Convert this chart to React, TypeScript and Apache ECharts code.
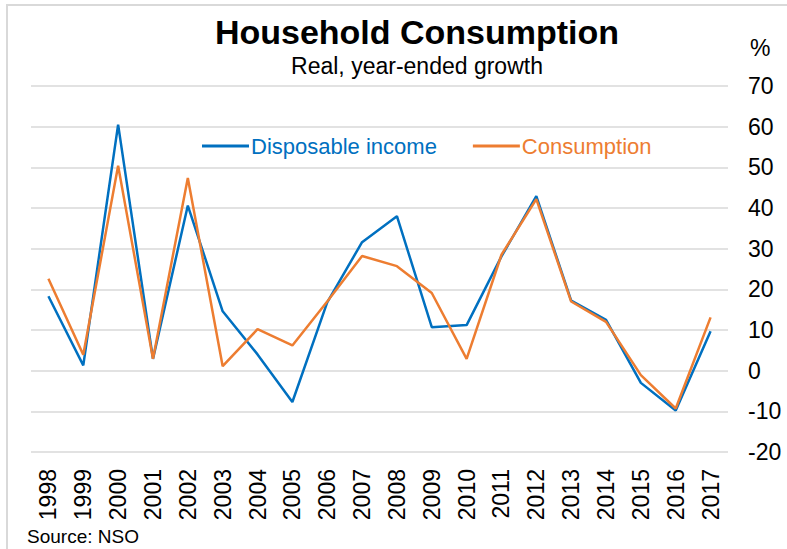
import React, { useEffect, useRef } from "react";
import * as echarts from "echarts";

const years = ["1998","1999","2000","2001","2002","2003","2004","2005","2006","2007","2008","2009","2010","2011","2012","2013","2014","2015","2016","2017"];
const disposableIncome = [18.3, 1.3, 60.5, 2.9, 40.6, 14.6, 4.0, -7.7, 16.8, 31.6, 38.0, 10.7, 11.2, 28.1, 42.9, 17.2, 12.5, -3.0, -9.8, 9.7];
const consumption = [22.6, 3.9, 50.4, 2.9, 47.4, 1.1, 10.2, 6.2, 17.0, 28.2, 25.7, 19.1, 2.9, 28.5, 42.2, 17.0, 12.0, -1.1, -9.3, 13.1];

const FONT = "'Liberation Sans', Arial, sans-serif";
const BLUE = "#0070C0";
const ORANGE = "#ED7D31";

export default function App() {
  const ref = useRef<HTMLDivElement>(null);
  useEffect(() => {
    if (!ref.current) return;
    const chart = echarts.init(ref.current, undefined, { renderer: "svg" });
    chart.setOption({
      animation: false,
      backgroundColor: "#fff",
      textStyle: { fontFamily: FONT },
      title: {
        text: "Household Consumption",
        subtext: "Real, year-ended growth",
        left: 412,
        textAlign: "center",
        top: 10,
        itemGap: 5,
        textStyle: { fontFamily: FONT, fontSize: 34, fontWeight: "bold", color: "#000" },
        subtextStyle: { fontFamily: FONT, fontSize: 23, color: "#000" },
      },
      legend: {
        left: 197,
        top: 130,
        itemWidth: 47,
        itemHeight: 3,
        itemGap: 36,
        icon: "rect",
        textStyle: { fontFamily: FONT, fontSize: 22, padding: [0, 0, 0, -3] },
        data: [
          { name: "Disposable income", textStyle: { color: BLUE } },
          { name: "Consumption", textStyle: { color: ORANGE } },
        ],
      },
      graphic: [
        {
          type: "rect",
          shape: { x: 7, y: 5, width: 1000, height: 1000 },
          style: { fill: "none", stroke: "#d9d9d9", lineWidth: 2 },
          silent: true,
        },
        {
          type: "text",
          x: 750,
          y: 48,
          style: { text: "%", fontFamily: FONT, fontSize: 23, fill: "#000", verticalAlign: "middle" },
        },
        {
          type: "text",
          x: 27,
          y: 536,
          style: { text: "Source: NSO", fontFamily: FONT, fontSize: 19, fill: "#000", verticalAlign: "middle" },
        },
      ],
      grid: { left: 31, right: 59, top: 86, bottom: 97, containLabel: false },
      xAxis: {
        type: "category",
        data: years,
        boundaryGap: true,
        axisLine: { show: false },
        axisTick: { show: false },
        axisLabel: { rotate: 90, fontSize: 23, color: "#000", margin: 17, fontFamily: FONT, interval: 0 },
      },
      yAxis: {
        type: "value",
        position: "right",
        min: -20,
        max: 70,
        interval: 10,
        axisLine: { show: false },
        axisTick: { show: false },
        axisLabel: { fontSize: 23, color: "#000", margin: 20, fontFamily: FONT },
        splitLine: { lineStyle: { color: "#d9d9d9", width: 1.5 } },
      },
      series: [
        {
          name: "Disposable income",
          type: "line",
          data: disposableIncome,
          symbol: "none",
          color: BLUE,
          lineStyle: { color: BLUE, width: 2.5 },
        },
        {
          name: "Consumption",
          type: "line",
          data: consumption,
          symbol: "none",
          color: ORANGE,
          lineStyle: { color: ORANGE, width: 2.5 },
        },
      ],
    });
    return () => chart.dispose();
  }, []);
  return <div ref={ref} style={{ position: "absolute", left: 0, top: 0, width: 787, height: 549 }} />;
}
